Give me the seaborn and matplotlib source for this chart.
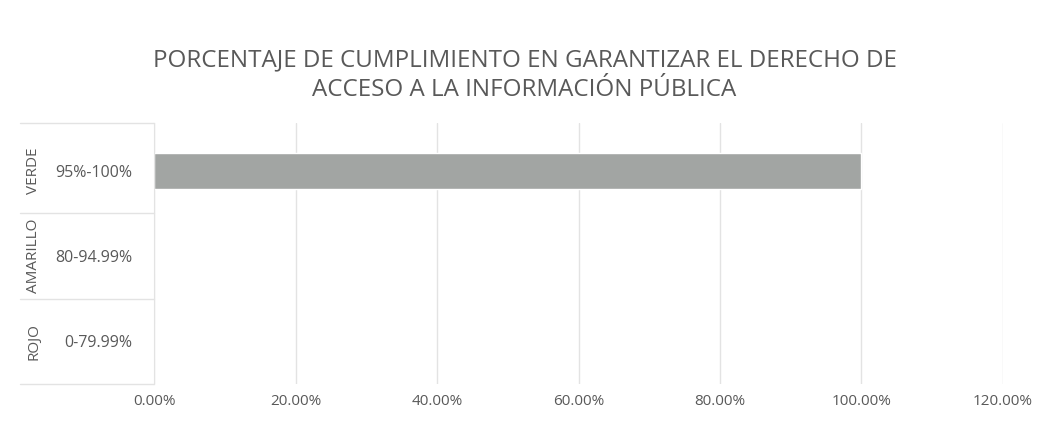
#%% Imports

import matplotlib
matplotlib.use('Agg')
import matplotlib.pyplot as plt
import matplotlib.transforms as mtransforms
import seaborn as sns
import pandas as pd

#%% Data

groups = ['VERDE', 'AMARILLO', 'ROJO']
ranges = ['95%-100%', '80-94.99%', '0-79.99%']
values = [1.0, 0.0, 0.0]
xticks = [0.0, 0.2, 0.4, 0.6, 0.8, 1.0, 1.2]
xtick_labels = ['0.00%', '20.00%', '40.00%', '60.00%', '80.00%', '100.00%', '120.00%']
title = 'PORCENTAJE DE CUMPLIMIENTO EN GARANTIZAR EL DERECHO DE\nACCESO A LA INFORMACIÓN PÚBLICA'

df = pd.DataFrame({'grupo': groups, 'rango': ranges, 'valor': values})

#%% Plot

sns.set_style('white')
plt.rcParams['font.family'] = ['Open Sans', 'DejaVu Sans']
txt = '#595959'
grid_c = '#e3e3e3'

fig = plt.figure(figsize = (10.49, 4.30), dpi = 100)
ax = fig.add_axes([0.147, 0.107, 0.809, 0.607])

sns.barplot(data = df, y = 'rango', x = 'valor', order = ranges,
    color = '#a2a5a3', width = 0.42, saturation = 1, ax = ax, orient = 'h')

ax.set_xlim(0, 1.2)
ax.set_ylim(2.5, -0.56)
ax.set_xticks(xticks)
ax.set_xticklabels(xtick_labels, color = txt, fontsize = 11)
ax.tick_params(axis = 'x', length = 0, pad = 7)
ax.tick_params(axis = 'y', length = 0, pad = 16, labelsize = 11.5, labelcolor = txt)
ax.set_xlabel('')
ax.set_ylabel('')
ax.set_axisbelow(True)
ax.xaxis.grid(True, color = grid_c, linewidth = 1)
for s in ['top', 'right', 'bottom']:
    ax.spines[s].set_visible(False)
ax.spines['left'].set_color(grid_c)

# outer category labels and separators
trans = mtransforms.blended_transform_factory(fig.transFigure, ax.transData)
for i, g in enumerate(groups):
    ax.text(0.032, i, g, transform = trans, rotation = 90, ha = 'center', va = 'center',
        color = txt, fontsize = 11)
for yb in [-0.56, 0.5, 1.5, 2.5]:
    ax.plot([0.019, 0.147], [yb, yb], transform = trans, color = grid_c,
        linewidth = 1, clip_on = False)

fig.text(0.5, 0.825, title, ha = 'center', va = 'center', color = txt,
    fontsize = 17.4, linespacing = 1.3)

fig.savefig('out.png', dpi = 100)
